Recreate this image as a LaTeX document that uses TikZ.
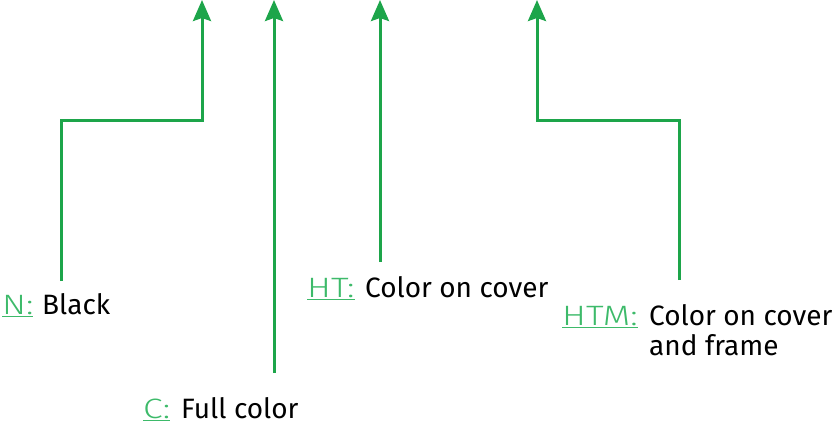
\documentclass[tikz,border=0pt]{standalone}
\usepackage{fontspec}
\setmainfont{Fira Sans}
\newfontfamily\lightfont[FakeStretch=1.27]{Fira Sans Light}
\usetikzlibrary{arrows.meta}
\definecolor{lgreen}{HTML}{1DA54A}
\definecolor{tgreen}{HTML}{3DBA6A}
\tikzset{
  conn/.style={draw=lgreen, line width=3pt, -{Stealth[length=21pt,width=18pt,inset=3pt]}},
  lbl/.style={anchor=base west, inner sep=0pt, font=\fontsize{28}{30}\selectfont},
  glbl/.style={lbl, font=\fontsize{28}{30}\lightfont, text=tgreen},
}
\begin{document}
\begin{tikzpicture}[x=1pt,y=-1pt]
\useasboundingbox (0,0) rectangle (835,424);
% labels
\node[glbl] (nk) at (2,314) {\underline{N:}};
\node[lbl] (n) at (42,314) {Black};
\node[glbl] (ck) at (143,418) {\underline{C:}};
\node[lbl] (c) at (181,418) {Full color};
\node[glbl] (htk) at (307,297) {\underline{HT:}};
\node[lbl] (ht) at (365,297) {Color on cover};
\node[glbl] (htmk) at (562,325) {\underline{HTM:}};
\node[lbl] (htm) at (649,325) {Color on cover};
\node[lbl] (htm2) at (649,355) {and frame};
% connector ends
\coordinate (n0) at (61,281);
\coordinate (c0) at (274,373);
\coordinate (ht0) at (380,262);
\coordinate (htm0) at (679,280);
\coordinate (nt) at (202,0);
\coordinate (ct) at (274,0);
\coordinate (htt) at (380,0);
\coordinate (htmt0) at (537,0);
\draw[conn] (n0) |- (131,120) -| (nt);
\draw[conn] (c0) -- (ct);
\draw[conn] (ht0) -- (htt);
\draw[conn] (htm0) |- (608,120) -| (htmt0);
\end{tikzpicture}
\end{document}
